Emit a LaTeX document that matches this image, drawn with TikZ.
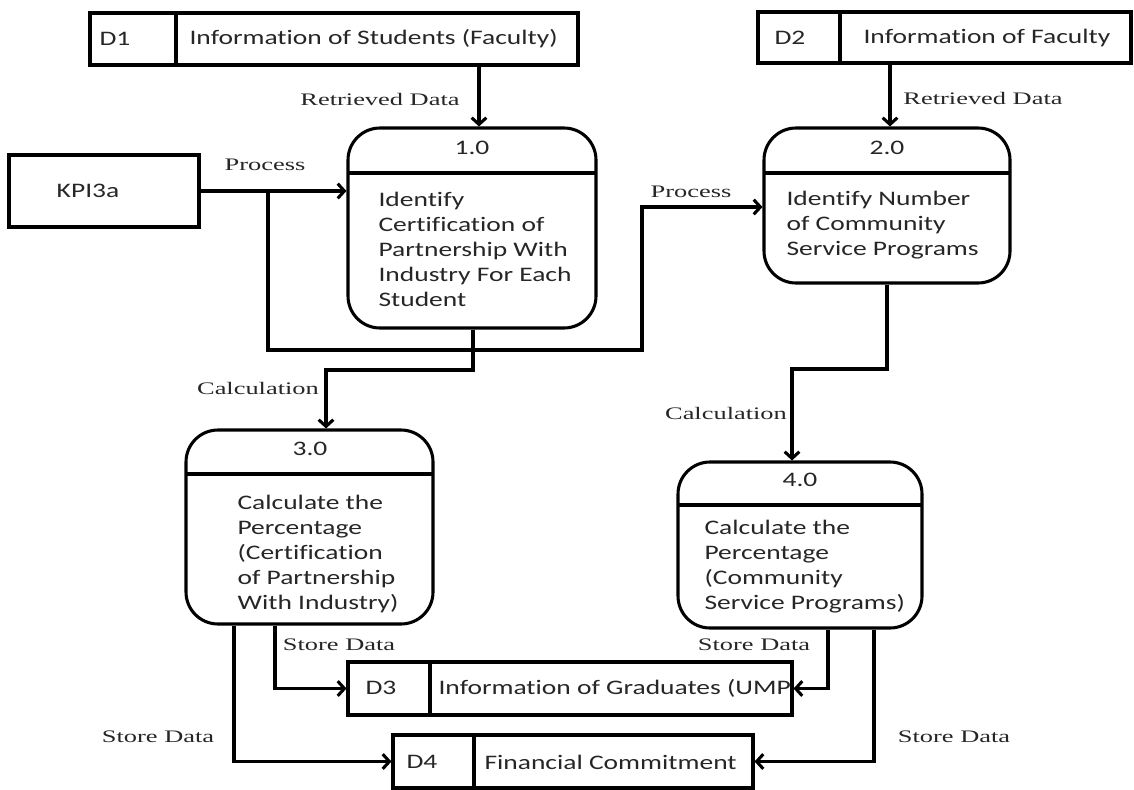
\documentclass[tikz,border=0pt]{standalone}
\usepackage{fontspec}
\setmainfont{Carlito}[FakeStretch=1.33,Ligatures=NoCommon]
\newfontfamily\flowfont{Liberation Serif}[FakeStretch=1.5]
\usetikzlibrary{arrows.meta,fit}
\begin{document}
\begin{tikzpicture}[x=0.75pt,y=-0.75pt,
  line width=2.3pt,
  box/.style={draw, inner sep=0pt, line width=2.3pt},
  proc/.style={box, rounded corners=24pt},
  txt/.style={font=\fontsize{15.5pt}{18.75pt}\selectfont, inner sep=0pt, text=black!85},
  ptext/.style={txt, align=left, anchor=north west},
  flowlabel/.style={font=\flowfont\fontsize{13.2pt}{15pt}\selectfont, inner sep=0pt, text=black!85},
  flow/.style={-{Straight Barb[length=5pt,width=11pt]}, line width=2.3pt}
]
\useasboundingbox (0,0) rectangle (1134,789);

% ---------- data stores ----------
\node[box, fit={(90,13)(578,65)}] (d1) {};
\draw (176,13) -- (176,65);
\node[txt] (d1id) at (115,39) {D1};
\node[txt, anchor=west] (d1name) at (188,39) {Information of Students (Faculty)};

\node[box, fit={(758,12)(1131,63)}] (d2) {};
\draw (840,12) -- (840,63);
\node[txt] (d2id) at (790,38) {D2};
\node[txt, anchor=west] (d2name) at (862,38) {Information of Faculty};

\node[box, fit={(348,662)(792,715)}] (d3) {};
\draw (430,662) -- (430,715);
\node[txt] (d3id) at (381,688) {D3};
\node[txt, anchor=west] (d3name) at (437,688) {Information of Graduates (UMP};

\node[box, fit={(393,735)(753,788)}] (d4) {};
\draw (474,735) -- (474,788);
\node[txt] (d4id) at (422,762) {D4};
\node[txt, anchor=west] (d4name) at (483,762) {Financial Commitment};

% ---------- external entity ----------
\node[box, fit={(9,155)(199,227)}] (kpi) {};
\node[txt] (kpiname) at (88,191) {KPI3a};

% ---------- processes ----------
\node[proc, fit={(348,128)(596,328)}] (p1) {};
\draw (348,173) -- (596,173);
\node[txt] (p1no) at (472,148) {1.0};
\node[ptext] (p1text) at (377,191) {Identify\\Certification of\\Partnership With\\Industry For Each\\Student};

\node[proc, fit={(764,128)(1010,283)}] (p2) {};
\draw (764,173) -- (1010,173);
\node[txt] (p2no) at (887,148) {2.0};
\node[ptext] (p2text) at (785,190) {Identify Number\\of Community\\Service Programs};

\node[proc, fit={(186,430)(433,624)}] (p3) {};
\draw (186,474) -- (433,474);
\node[txt] (p3no) at (310,449) {3.0};
\node[ptext] (p3text) at (236,494) {Calculate the\\Percentage\\(Certification\\of Partnership\\With Industry)};

\node[proc, fit={(678,462)(922,628)}] (p4) {};
\draw (678,505) -- (922,505);
\node[txt] (p4no) at (800,480) {4.0};
\node[ptext] (p4text) at (703,519) {Calculate the\\Percentage\\(Community\\Service Programs)};

% ---------- routing points ----------
\coordinate (c1) at (479,0);
\coordinate (c2) at (890,0);
\coordinate (split) at (268,191);
\coordinate (loopc) at (642,350);
\coordinate (r2) at (0,207);
\coordinate (c3) at (473,0);
\coordinate (bend3) at (326,370);
\coordinate (c5) at (887,0);
\coordinate (bend4) at (792,369);
\coordinate (c6) at (275,0);
\coordinate (c7) at (234,0);
\coordinate (c8) at (828,0);
\coordinate (c9) at (874,0);

% ---------- flows ----------
\draw[flow] (d1.south -| c1) -- (p1.north -| c1);
\draw[flow] (d2.south -| c2) -- (p2.north -| c2);
\draw[flow] (kpi.east) -- (kpi.east -| p1.west);
\draw[flow] (split) |- (loopc) |- (p2.west |- r2);
\draw[flow] (p1.south -| c3) |- (bend3) -- (p3.north -| bend3);
\draw[flow] (p2.south -| c5) |- (bend4) -- (p4.north -| bend4);
\draw[flow] (p3.south -| c6) |- (d3.west);
\draw[flow] (p3.south -| c7) |- (d4.west);
\draw[flow] (p4.south -| c8) |- (d3.east);
\draw[flow] (p4.south -| c9) |- (d4.east);

% ---------- flow labels ----------
\node[flowlabel] (l1) at (380,99) {Retrieved Data};
\node[flowlabel] (l2) at (983,98) {Retrieved Data};
\node[flowlabel] (l3) at (265,165) {Process};
\node[flowlabel] (l4) at (691,192) {Process};
\node[flowlabel] (l5) at (258,388) {Calculation};
\node[flowlabel] (l6) at (726,413) {Calculation};
\node[flowlabel] (l7) at (339,645) {Store Data};
\node[flowlabel] (l8) at (754,645) {Store Data};
\node[flowlabel] (l9) at (158,737) {Store Data};
\node[flowlabel] (l10) at (954,737) {Store Data};
\end{tikzpicture}
\end{document}
